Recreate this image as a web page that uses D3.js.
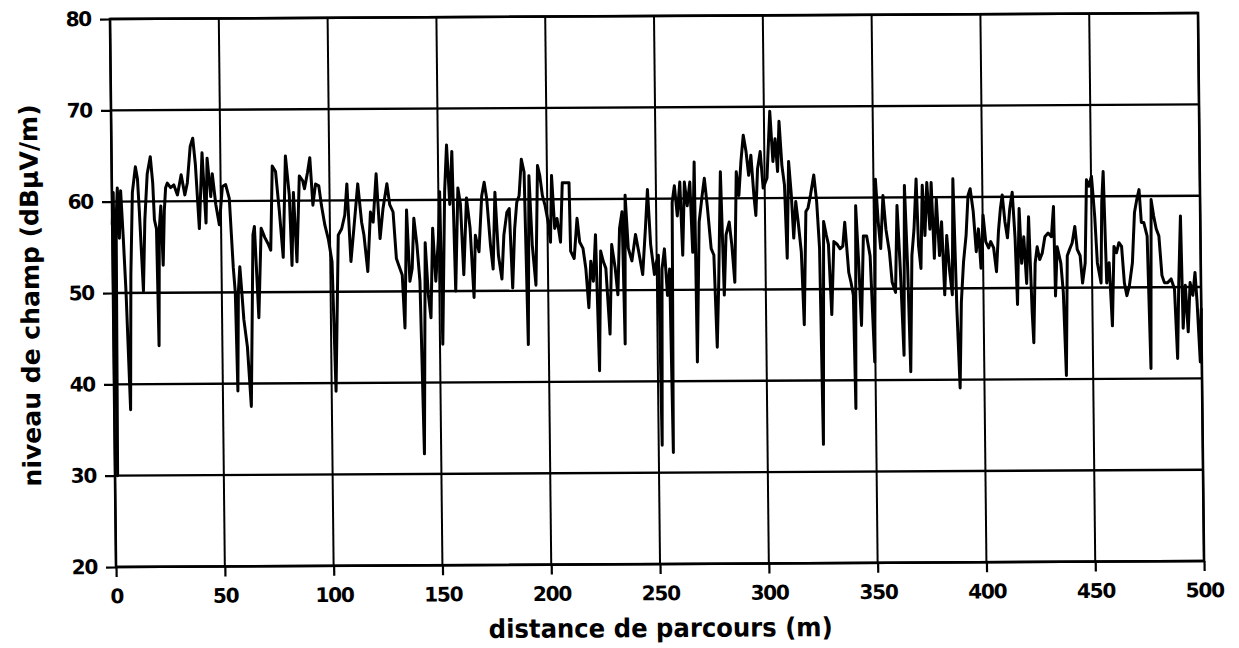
<!DOCTYPE html>
<html>
<head>
<meta charset="utf-8">
<script src="https://cdn.jsdelivr.net/npm/d3@7/dist/d3.min.js"></script>
<style>
    html, body { margin: 0; padding: 0; background: #fff; }
    svg { display: block; }
    .tick text { font-family: "DejaVu Sans", sans-serif; font-weight: bold; font-size: 20px; letter-spacing: -1.2px; fill: #000; }
    .tick line { stroke: #000; stroke-width: 2.2px; }
    .axis-title { font-family: "DejaVu Sans", sans-serif; font-weight: bold; fill: #000; }
</style>
</head>
<body>
<svg id="chart" width="1239" height="648"></svg>
<script>
// axes
const xTicks = [0, 50, 100, 150, 200, 250, 300, 350, 400, 450, 500];
const yTicks = [20, 30, 40, 50, 60, 70, 80];

// field level along the route: [distance (m), level (dBµV/m)]
const trace0to100 = [
    [0, 57.5], [0.6, 61], [1.2, 30], [1.8, 58], [2.5, 61.5], [3.2, 56], [4, 61.2], [5, 56], [6, 50], [7.5, 37.2],
    [8.3, 52], [9.4, 61], [10.9, 63.8], [11.8, 62.5], [12.5, 59], [14, 50.2], [15, 58], [16.3, 63], [17.8, 64.9], [18.8, 62],
    [19.4, 58], [20.3, 57], [20.9, 44.2], [21.6, 57], [22.4, 59.5], [23.2, 53], [24, 59], [24.7, 61.5], [25.5, 62], [27, 61.5],
    [28.5, 61.8], [30.1, 60.7], [31.9, 62.9], [33.5, 60.7], [34.7, 62], [36.2, 66], [37.4, 66.9], [38.5, 64], [40, 57], [41.6, 65.3],
    [43.1, 57.6], [43.9, 64.7], [45.4, 60.5], [46.2, 63], [47.7, 59.6], [49.2, 57.4], [50.8, 61.6], [52.3, 61.8], [53.9, 60.3], [55.4, 52.7],
    [56.2, 50], [56.9, 39.2], [57.6, 50], [58.4, 52.8], [59.2, 50], [60, 47], [61.5, 44], [63, 37.5], [64.6, 56.3], [65.3, 57.2],
    [66.9, 47.2], [68.4, 57], [70, 56], [71.5, 55.3], [72.7, 54.6], [73.8, 63.8], [75.3, 63.2], [76.8, 59], [78.4, 53.8], [79.9, 64.9],
    [81.5, 60.6], [82.4, 52.9], [83.4, 60.9], [84.7, 53.3], [86.2, 62.7], [87.7, 62.2], [88.5, 61.3], [90, 63.1], [91.1, 64.7], [92.3, 59.5],
    [93.6, 61.8], [95.1, 61.6], [96.2, 59.5], [97.7, 57.3], [99.2, 55.8]
];
const trace100to200 = [
    [100.8, 53.3], [102, 39.1], [103.1, 49.6], [103.8, 56.2], [105.4, 56.9], [106.9, 58.4], [108, 61.8], [109.5, 53.3], [111, 56.9], [113, 61.8],
    [114.6, 57.6], [115.6, 56.2], [117.2, 52.2], [118.7, 58.7], [119.9, 57.6], [121.5, 62.9], [123, 55.8], [124.5, 59.1], [126.4, 61.8], [127.6, 59.5],
    [129.1, 58.7], [130.4, 53.6], [131.4, 52.9], [133, 51.8], [134, 46], [135.3, 58.9], [136.5, 51.1], [137.6, 52.5], [138.6, 58], [139.9, 55.1],
    [141.1, 51.1], [142.3, 32.2], [143.7, 55.3], [144.9, 49.6], [146, 47.1], [147.2, 56.9], [148.4, 51.1], [149.8, 55.8], [150.6, 60.9], [151.3, 44.2],
    [152.9, 60.9], [154, 66], [155.2, 59.5], [156.4, 65.3], [157.5, 50], [159, 61.3], [160.1, 59.5], [161.3, 51.8], [162.9, 60.2], [164.4, 56.9],
    [165.9, 49.3], [166.8, 56.1], [168.4, 54.3], [169.9, 60.4], [171.1, 61.9], [172.2, 60.1], [173.7, 55], [174.8, 52.4], [176, 60.8], [177.3, 53.9],
    [178.8, 51.3], [179.9, 56.1], [181.4, 58.6], [182.5, 59], [183.7, 50.3], [184.9, 56.8], [186, 59.7], [187.1, 60.4], [188.3, 64.4], [189.5, 63],
    [190.6, 44.1], [191.7, 62.6], [192.9, 55], [194.4, 50.6], [195.7, 63.7], [196.7, 62.6], [197.8, 60.4], [199, 59.3]
];
const trace200to300 = [
    [200.3, 57.5], [201.3, 55.3], [202.1, 62.6], [203.3, 56.8], [204.4, 57.9], [205.9, 55.3], [207, 61.8], [210.1, 61.8], [210.5, 54.3], [212.1, 53.5],
    [213.6, 57.9], [214.7, 55.3], [216.2, 54.6], [217.4, 52.4], [218.6, 48.1], [219.7, 53.2], [220.8, 51], [222, 56.1], [223.2, 41.2], [224.3, 54.3],
    [225.4, 53.2], [226.6, 52.4], [228.2, 45.2], [229.4, 55], [230.9, 52.4], [232, 49.5], [233.1, 56.8], [234.3, 58.6], [235.1, 44.1], [235.8, 60.4],
    [237, 54.6], [238.6, 53.2], [240.4, 56.1], [242, 53.9], [243.5, 51.7], [245, 56.8], [246.1, 61], [247.3, 55], [248.9, 51.7], [249.8, 53],
    [250.8, 53.8], [251.6, 33], [252.4, 52.3], [253.6, 54.5], [254.8, 49.4], [255.9, 52.3], [256.7, 32.2], [257.4, 59.6], [258.5, 61.4], [259.7, 58.1],
    [261, 61.8], [262, 53.8], [263.1, 61.8], [264.3, 59.2], [265.6, 61.8], [266.6, 54.1], [267.7, 64], [268.2, 42.1], [269.7, 57.4], [271.2, 60.3],
    [272.3, 62.2], [273.5, 59.2], [275.1, 54.5], [276.3, 53.8], [277.4, 43.7], [278.4, 50.8], [279.7, 62.9], [280.9, 49.4], [282, 56], [283.5, 57.4],
    [284.6, 54.9], [285.8, 50.8], [287, 62.9], [288.1, 60.3], [289.2, 64], [290.4, 66.9], [291.6, 65.1], [292.7, 62.5], [293.8, 64.7], [295, 60.3],
    [295.8, 58.1], [296.8, 63.2], [298.1, 65.1], [299.3, 61.1]
];
const trace300to400 = [
    [301.1, 62.2], [302.7, 69.5], [303.9, 64], [305, 66.5], [306, 62.9], [306.9, 68.4], [308, 63.6], [309.1, 61.4], [310, 53.4], [311.1, 64],
    [312.2, 60.3], [313.1, 55.6], [314.2, 59.6], [315.2, 57.4], [316.5, 54.1], [317.5, 46.1], [318.8, 58.5], [319.8, 58.9], [321, 60.3], [322.6, 62.5],
    [323.8, 59.6], [324.9, 54.5], [325.7, 33], [326.9, 57.4], [328, 56], [329, 54.9], [330.2, 47.2], [331.5, 55.2], [333, 54.9], [334.3, 54.4],
    [335.6, 54.7], [336.6, 57.3], [338.2, 51.8], [339.2, 50.7], [340.2, 49.3], [340.8, 36.9], [341.7, 59.1], [342.8, 52.9], [343.8, 46], [345.1, 55.8],
    [346.6, 55.8], [348.1, 53.6], [349.7, 42], [350.9, 62], [352, 57.3], [353, 54.4], [354.3, 60.2], [355.5, 56.5], [357, 54], [358.1, 50.7],
    [359.6, 49.6], [360.7, 59.1], [361.9, 52.2], [363.2, 42.7], [364.2, 61.3], [365.3, 52.2], [366.2, 40.9], [367.3, 53.6], [368.4, 56.5], [369.6, 62],
    [370.4, 54.7], [371.4, 52.2], [372.4, 61.3], [373.4, 55.8], [374.5, 61.6], [375.7, 56.5], [376.5, 61.6], [377.6, 53.3], [378.8, 59.8], [380, 53.6],
    [381.1, 57.3], [382.2, 49.3], [383.4, 55.8], [384.6, 51.8], [385.7, 49.3], [386.5, 62], [387.7, 47.8], [388.8, 39.1], [389.8, 48.5], [391, 52.9],
    [392.3, 55.8], [393.4, 60.2], [394.4, 60.9], [395.7, 58.4], [396.9, 54], [398, 56.5], [399, 52.2]
];
const trace400to500 = [
    [400.2, 58], [401.3, 55.1], [402.6, 54.4], [403.6, 55.1], [404.9, 54.4], [406.1, 51.8], [407.2, 56.2], [408.2, 58.7], [409.1, 60.2], [410.2, 57.3],
    [411.3, 55.5], [412.5, 58.7], [413.7, 60.5], [414.8, 55.5], [415.6, 48.2], [416.8, 58.7], [417.7, 52.7], [418.8, 55.6], [419.9, 50.5], [421.1, 57.8],
    [422.3, 47.3], [422.9, 44], [423.9, 52.7], [424.9, 54.5], [426, 53.1], [427.2, 53.8], [428.5, 55.6], [430, 56], [431.5, 55.6], [432.6, 58.9],
    [433.1, 49.1], [434.1, 54.5], [435.7, 52.7], [436.7, 49.5], [437.7, 40.4], [438.7, 53.5], [439.8, 54.2], [441, 54.9], [442.3, 56.7], [443.3, 54.2],
    [444.6, 53.5], [445.6, 50.5], [446.9, 52.7], [447.9, 61.8], [449, 61.1], [450.2, 62.2], [451.5, 57.8], [452.5, 52.7], [454.1, 50.5], [454.8, 59.3],
    [455.6, 62.7], [456.7, 50.5], [457.9, 52.7], [459.1, 45.8], [460.2, 54.5], [461.3, 53.8], [462.5, 54.9], [463.7, 54.5], [464.8, 50.5], [465.9, 49.1],
    [467.1, 50.2], [468.6, 52.7], [469.8, 58.2], [470.9, 59.6], [472, 60.7], [472.9, 57.1], [474, 57.1], [475.5, 55.6], [476.6, 41.1], [477.5, 59.6],
    [478.6, 57.8], [479.7, 56.4], [480.9, 55.6], [482.1, 51.3], [483.2, 50.5], [484.7, 50.5], [486.3, 50.9], [487.8, 49.8], [488.9, 42.2], [489.8, 50.5],
    [490.9, 57.8], [491.6, 45.5], [492.8, 50.2], [493.9, 45.1], [495, 50.5], [496.2, 49.1], [497.3, 51.6], [498.1, 48.4], [499.3, 41.8], [500, 47.6]
];

const trace = [].concat(trace0to100, trace100to200, trace200to300, trace300to400, trace400to500);

const width = 1088;
const height = 548;

const svg = d3.select('#chart');

// plot sheet is slightly tilted/sheared on the page
const g = svg.append('g')
    .attr('transform', 'matrix(1,-0.0055,0.011,1,110,19)');

const x = d3.scaleLinear().domain([0, 500]).range([0, width]);
const y = d3.scaleLinear().domain([20, 80]).range([height, 0]);

// grid
g.append('g')
    .selectAll('line')
    .data(xTicks)
    .enter().append('line')
    .attr('x1', d => x(d)).attr('x2', d => x(d))
    .attr('y1', 0).attr('y2', height)
    .attr('stroke', '#000')
    .attr('stroke-width', 2);

g.append('g')
    .selectAll('line')
    .data(yTicks)
    .enter().append('line')
    .attr('x1', 0).attr('x2', width)
    .attr('y1', d => y(d)).attr('y2', d => y(d))
    .attr('stroke', '#000')
    .attr('stroke-width', 2.4);

// axes (ticks stick out of the frame)
const xAxis = g.append('g')
    .attr('transform', `translate(0,${height})`)
    .call(d3.axisBottom(x).tickValues(xTicks).tickSize(10).tickPadding(12).tickFormat(d3.format('d')));
xAxis.select('.domain').remove();

const yAxis = g.append('g')
    .call(d3.axisLeft(y).tickValues(yTicks).tickSize(10).tickPadding(9).tickFormat(d3.format('d')));
yAxis.select('.domain').remove();

// frame
g.append('rect')
    .attr('x', 0).attr('y', 0)
    .attr('width', width).attr('height', height)
    .attr('fill', 'none')
    .attr('stroke', '#000')
    .attr('stroke-width', 2.6);

// measured field level
const line = d3.line()
    .x(d => x(d[0]))
    .y(d => y(d[1]));

g.append('path')
    .datum(trace)
    .attr('d', line)
    .attr('fill', 'none')
    .attr('stroke', '#000')
    .attr('stroke-width', 3)
    .attr('stroke-linejoin', 'round')
    .attr('stroke-linecap', 'round');

// axis titles
g.append('text')
    .attr('class', 'axis-title')
    .attr('x', width / 2)
    .attr('y', height + 73)
    .attr('text-anchor', 'middle')
    .attr('font-size', 26)
    .attr('textLength', 344)
    .attr('lengthAdjust', 'spacingAndGlyphs')
    .text('distance de parcours (m)');

g.append('text')
    .attr('class', 'axis-title')
    .attr('transform', `translate(-74,${height / 2 + 2}) rotate(-90)`)
    .attr('text-anchor', 'middle')
    .attr('font-size', 25)
    .attr('textLength', 382)
    .attr('lengthAdjust', 'spacingAndGlyphs')
    .text('niveau de champ (dBµV/m)');
</script>
</body>
</html>
